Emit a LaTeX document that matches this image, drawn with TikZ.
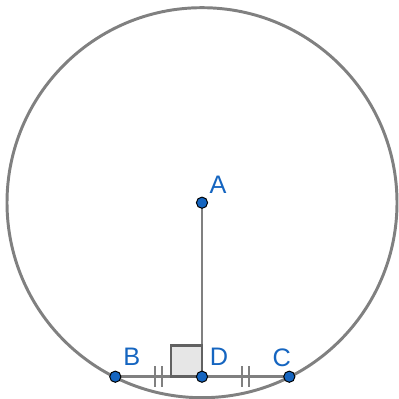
\documentclass[tikz,border=0pt]{standalone}
\usepackage{fontspec}
\setsansfont{Liberation Sans}
\usepackage{xcolor}
\definecolor{ggline}{HTML}{808080}
\definecolor{ggdark}{HTML}{616161}
\definecolor{ggblue}{HTML}{1565C0}
\definecolor{ggfill}{HTML}{E6E6E6}
\usetikzlibrary{calc}

\begin{document}
\begin{tikzpicture}[x=0.025cm,y=-0.025cm,font=\sffamily,
  seg/.style={draw=ggline,line width=2.1pt},
  ra/.style={draw=ggdark,fill=ggfill,line width=2.1pt},
  tick/.style={draw=ggline,line width=1.8pt},
  pt/.style={circle,draw=black,fill=ggblue,line width=0.7pt,inner sep=0pt,minimum size=2.8mm},
  lbl/.style={text=ggblue,font=\sffamily\fontsize{18}{20}\selectfont,inner sep=0pt}]
\useasboundingbox (0,0) rectangle (399,399);
% points
\coordinate (A) at (202,202.7);
\coordinate (B) at (115.3,376.7);
\coordinate (D) at (202,376.7);
\coordinate (C) at (289.3,376.7);
% circle and segments
\draw[seg] (A) circle (195);
\draw[seg] (B) -- (C);
\draw[seg] (A) -- (D);
\draw[ra] (D) rectangle ++(-31,-31);
% equal marks
\foreach \p/\q in {B/D,D/C}{
  \coordinate (m) at ($(\p)!0.5!(\q)$);
  \draw[tick] ($(m)+(-3.5,-10.5)$) -- ($(m)+(-3.5,10.5)$);
  \draw[tick] ($(m)+(3.5,-10.5)$) -- ($(m)+(3.5,10.5)$);
}
% dots and labels
\foreach \p in {A,B,D,C}
  \node[pt] (p\p) at (\p) {};
\node[lbl] (lA) at (218,185) {A};
\node[lbl] (lB) at (131.7,356.7) {B};
\node[lbl] (lD) at (219,356.7) {D};
\node[lbl] (lC) at (281.7,357.5) {C};
\end{tikzpicture}
\end{document}
